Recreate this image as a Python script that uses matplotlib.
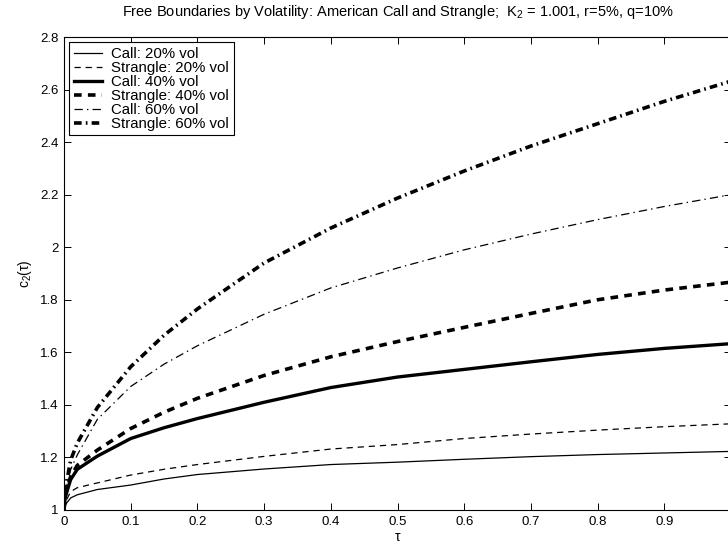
import matplotlib
matplotlib.use("Agg")
import matplotlib.pyplot as plt

plt.rcParams['font.family'] = ['Liberation Sans', 'DejaVu Sans']
plt.rcParams['mathtext.fontset'] = 'custom'
plt.rcParams['mathtext.rm'] = 'Liberation Sans'
plt.rcParams['mathtext.it'] = 'Liberation Sans:italic'
plt.rcParams['lines.scale_dashes'] = False

# ---- data ----
tau = [0, 0.002, 0.01, 0.02, 0.05, 0.1, 0.15, 0.2, 0.3, 0.4, 0.5, 0.6, 0.7, 0.8, 0.9, 1.0]
call_20 = [1.0, 1.02, 1.046, 1.058, 1.078, 1.095, 1.118, 1.135, 1.156, 1.173, 1.182, 1.193, 1.203, 1.211, 1.217, 1.223]
strangle_20 = [1.0, 1.03, 1.07, 1.085, 1.103, 1.133, 1.155, 1.173, 1.204, 1.232, 1.249, 1.272, 1.289, 1.304, 1.317, 1.328]
call_40 = [1.0, 1.05, 1.116, 1.155, 1.205, 1.272, 1.313, 1.348, 1.41, 1.466, 1.506, 1.535, 1.564, 1.592, 1.615, 1.633]
strangle_40 = [1.0, 1.055, 1.128, 1.17, 1.228, 1.31, 1.372, 1.425, 1.512, 1.583, 1.641, 1.695, 1.748, 1.80, 1.837, 1.867]
call_60 = [1.0, 1.07, 1.154, 1.21, 1.345, 1.47, 1.555, 1.625, 1.745, 1.845, 1.921, 1.99, 2.05, 2.105, 2.155, 2.2]
strangle_60 = [1.0, 1.08, 1.19, 1.255, 1.39, 1.545, 1.665, 1.765, 1.94, 2.073, 2.187, 2.29, 2.385, 2.47, 2.555, 2.632]

labels = ["Call: 20% vol", "Strangle: 20% vol", "Call: 40% vol",
          "Strangle: 40% vol", "Call: 60% vol", "Strangle: 60% vol"]

xticks = [0, 0.1, 0.2, 0.3, 0.4, 0.5, 0.6, 0.7, 0.8, 0.9, 1]
xticklabels = ["0", "0.1", "0.2", "0.3", "0.4", "0.5", "0.6", "0.7", "0.8", "0.9", "1"]
yticks = [1, 1.2, 1.4, 1.6, 1.8, 2, 2.2, 2.4, 2.6, 2.8]
yticklabels = ["1", "1.2", "1.4", "1.6", "1.8", "2", "2.2", "2.4", "2.6", "2.8"]

title = "Free Boundaries by Volatility: American Call and Strangle;  K$_2$ = 1.001, r=5%, q=10%"

# ---- figure ----
fig = plt.figure(figsize=(7.28, 5.47), dpi=100)
W, H = 728, 547
left, right, top, bottom = 64, 731, 37, 510
ax = fig.add_axes([left / W, (H - bottom) / H, (right - left) / W, (bottom - top) / H])

series = [call_20, strangle_20, call_40, strangle_40, call_60, strangle_60]
styles = [
    dict(lw=0.9, ls='-'),
    dict(lw=0.9, dashes=(4.5, 3.5)),
    dict(lw=2.4, ls='-'),
    dict(lw=2.6, dashes=(5.5, 4.5)),
    dict(lw=0.9, dashes=(6, 3, 1, 3)),
    dict(lw=2.6, dashes=(5.5, 3, 1.2, 3)),
]
for y, lab, st in zip(series, labels, styles):
    ax.plot(tau, y, color='black', label=lab, **st)

ax.set_xlim(0, 1)
ax.set_ylim(1, 2.8)
ax.set_xticks(xticks)
ax.set_xticklabels(xticklabels)
ax.set_yticks(yticks)
ax.set_yticklabels(yticklabels)
ax.tick_params(direction='in', top=True, right=True, length=5, width=0.7,
               labelsize=9.5, pad=4)
for s in ax.spines.values():
    s.set_linewidth(0.8)

ax.set_title(title, fontsize=10.5, pad=15)
ax.set_xlabel("τ", fontsize=10, labelpad=2)
ax.set_ylabel("c$_2$(τ)", fontsize=10, labelpad=4)

leg = ax.legend(loc='upper left', fontsize=10.8, frameon=True, fancybox=False,
                edgecolor='black', framealpha=1, handlelength=1.9,
                labelspacing=0.0, borderpad=0.3, handletextpad=0.6,
                borderaxespad=0.35)
leg.get_frame().set_linewidth(0.8)

fig.savefig("out.png", dpi=100)
